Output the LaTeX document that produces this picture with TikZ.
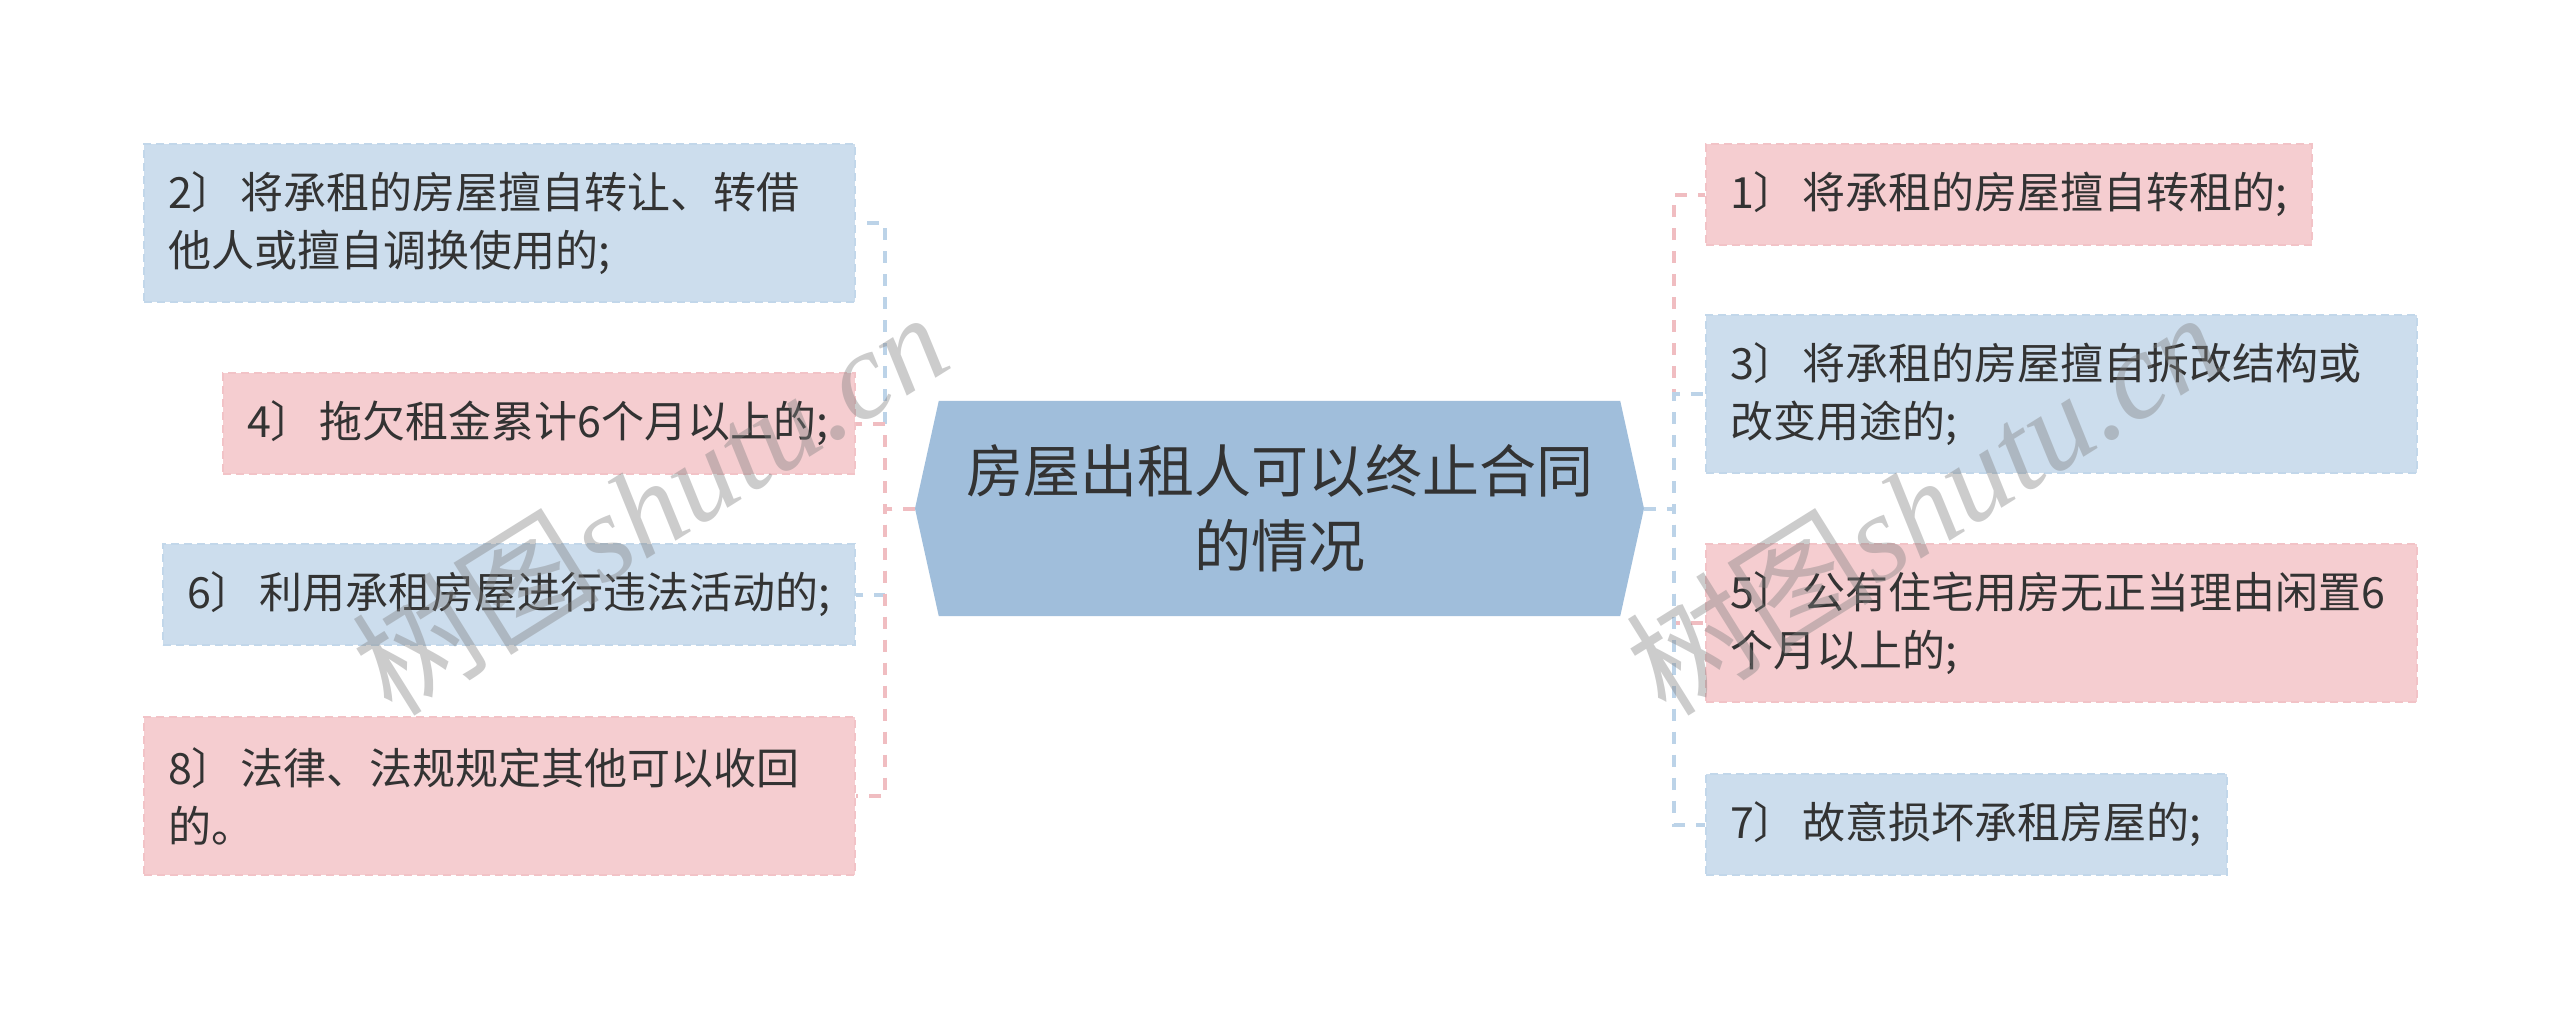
\documentclass[tikz,border=0pt]{standalone}
\usepackage{fontspec}
\setmainfont{Noto Sans CJK SC}
\newfontfamily\wmlat{Liberation Serif}
\usetikzlibrary{backgrounds}
\definecolor{bfill}{HTML}{CCDDED}
\definecolor{pfill}{HTML}{F5CDD0}
\definecolor{bline}{HTML}{BCD3E8}
\definecolor{pline}{HTML}{F0BDC1}
\definecolor{cfill}{HTML}{A0BEDB}
\definecolor{txt}{HTML}{333333}
\newcommand{\gp}{\hspace{6pt}}
\begin{document}
\begin{tikzpicture}[x=1pt,y=-1pt,
  box/.style={rectangle, anchor=north west, inner xsep=24pt, inner ysep=0pt, align=left, text=txt,
    font=\fontsize{43pt}{58pt}\selectfont, line width=2pt, dash pattern=on 8pt off 5pt},
  bbox/.style={box, fill=bfill, draw=bline!60!bfill},
  pbox/.style={box, fill=pfill, draw=pline!60!pfill},
  one/.style={minimum height=101pt},
  two/.style={minimum height=158pt},
  conn/.style={line width=4pt, dash pattern=on 12pt off 11pt},
  bconn/.style={conn, draw=bline},
  pconn/.style={conn, draw=pline},
  wm/.style={rotate=32, text=gray, opacity=0.4, font=\fontsize{124pt}{124pt}\selectfont}
]
\begin{scope}[on background layer]
  \fill[white] (0,0) rectangle (2560,1017);
\end{scope}
\useasboundingbox (0,0) rectangle (2560,1017);

% centre
\node[font=\fontsize{57pt}{75pt}\selectfont, text=txt, align=center, minimum width=681pt,
      minimum height=215pt, inner sep=0pt] (c) at (1279.5,508.5) {房屋出租人可以终止合同\\的情况};
\coordinate (cl) at (915,508.5);
\coordinate (cr) at (1644,508.5);
\coordinate (jl) at (885,508.5);
\coordinate (jr) at (1674,508.5);
\begin{scope}[on background layer]
  \fill[cfill] (c.north west) -- (c.north east) -- (cr) -- (c.south east) -- (c.south west) -- (cl) -- cycle;
\end{scope}

% left boxes
\node[bbox, two, minimum width=711pt, text width=663pt] (b2) at (143,143) {2〕\gp 将承租的房屋擅自转让、转借\\他人或擅自调换使用的;};
\node[pbox, one, minimum width=632pt, text width=584pt] (b4) at (222,372) {4〕\gp 拖欠租金累计6个月以上的;};
\node[bbox, one, minimum width=692pt, text width=644pt] (b6) at (162,543) {6〕\gp 利用承租房屋进行违法活动的;};
\node[pbox, two, minimum width=711pt, text width=663pt] (b8) at (143,716) {8〕\gp 法律、法规规定其他可以收回\\的。};

% right boxes
\node[pbox, one, minimum width=606pt, text width=558pt] (b1) at (1705,143) {1〕\gp 将承租的房屋擅自转租的;};
\node[bbox, two, minimum width=711pt, text width=663pt] (b3) at (1705,314) {3〕\gp 将承租的房屋擅自拆改结构或\\改变用途的;};
\node[pbox, two, minimum width=711pt, text width=663pt] (b5) at (1705,543) {5〕\gp 公有住宅用房无正当理由闲置6\\个月以上的;};
\node[bbox, one, minimum width=521pt, text width=473pt] (b7) at (1705,773) {7〕\gp 故意损坏承租房屋的;};

% connectors
\draw[bconn] (cl) -- (jl) |- (b2.east);
\draw[pconn] (cl) -- (jl) |- (b4.east);
\draw[bconn] (cl) -- (jl) |- (b6.east);
\draw[pconn] (cl) -- (jl) |- (b8.east);
\draw[pconn] (cr) -- (jr) |- (b1.west);
\draw[bconn] (cr) -- (jr) |- (b3.west);
\draw[pconn] (cr) -- (jr) |- (b5.west);
\draw[bconn] (cr) -- (jr) |- (b7.west);

% watermarks
\node[wm] (w1) at (649,502) {树图{\wmlat\itshape shutu.cn}};
\node[wm] (w2) at (1923,502) {树图{\wmlat\itshape shutu.cn}};
\end{tikzpicture}
\end{document}
